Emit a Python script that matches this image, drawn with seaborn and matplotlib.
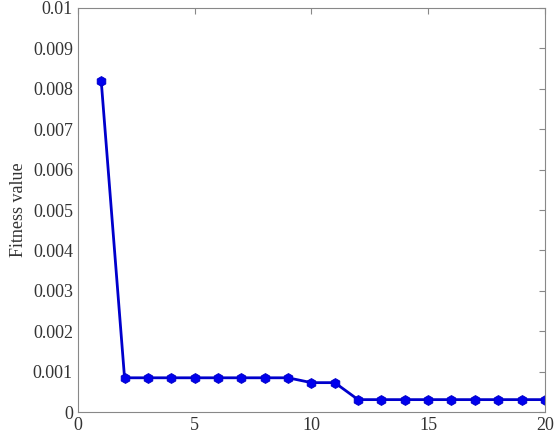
import matplotlib
matplotlib.use("Agg")
import matplotlib.pyplot as plt
import seaborn as sns
import pandas as pd

# iteration vs best fitness
iterations = list(range(1, 21))
fitness = [0.0082, 0.00085, 0.00085, 0.00085, 0.00085, 0.00085, 0.00085, 0.00085,
           0.00085, 0.00073, 0.00073, 0.00031, 0.00031, 0.00031, 0.00031, 0.00031,
           0.00031, 0.00031, 0.00031, 0.00031]

df = pd.DataFrame({"iter": iterations, "fitness": fitness})

sns.set_style("white")
plt.rcParams["font.family"] = ["Liberation Serif", "DejaVu Serif"]

fig = plt.figure(figsize=(5.6, 4.38), dpi=100)
ax = fig.add_axes([0.139, 0.059, 0.834, 0.923])

sns.lineplot(data=df, x="iter", y="fitness", ax=ax, color="#0000cc", linewidth=2,
             marker="h", markersize=7, markeredgecolor="#0000cc", markerfacecolor="#0000ee")

ax.set_xlim(0, 20)
ax.set_ylim(0, 0.01)
ax.set_xticks([0, 5, 10, 15, 20])
ax.set_yticks([i / 1000 for i in range(11)])
ax.set_yticklabels(["0"] + [f"{i/1000:g}" for i in range(1, 11)])
ax.set_xlabel("")
ax.set_ylabel("Fitness value", fontsize=13, color="#333333")

for s in ax.spines.values():
    s.set_color("#888888")
    s.set_linewidth(0.8)
ax.tick_params(direction="in", top=True, right=True, length=4, color="#888888",
               labelsize=13, labelcolor="#333333")

fig.savefig("out.png", dpi=100)
